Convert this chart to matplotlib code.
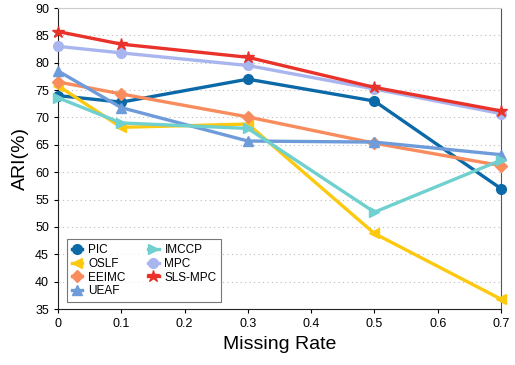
import matplotlib.pyplot as plt
import numpy as np

plt.rcParams['font.family'] = ['Liberation Sans', 'DejaVu Sans']

missing_rate = [0, 0.1, 0.3, 0.5, 0.7]

pic = [74.0, 72.8, 77.0, 73.0, 57.0]
oslf = [75.8, 68.2, 68.8, 48.8, 36.8]
eeimc = [76.5, 74.3, 70.1, 65.3, 61.2]
ueaf = [78.5, 71.8, 65.7, 65.5, 63.2]
imccp = [73.6, 69.0, 68.0, 52.7, 62.2]
mpc = [83.0, 81.8, 79.5, 75.2, 70.7]
sls_mpc = [85.7, 83.4, 81.0, 75.5, 71.2]

series = [
    ("PIC", pic, "#0b69a8", "o"),
    ("OSLF", oslf, "#fdc90f", "<"),
    ("EEIMC", eeimc, "#f88c5d", "D"),
    ("UEAF", ueaf, "#6e9bd9", "^"),
    ("IMCCP", imccp, "#6fd0cf", ">"),
    ("MPC", mpc, "#a9b5ef", "o"),
    ("SLS-MPC", sls_mpc, "#e9322a", "*"),
]

fig = plt.figure(figsize=(5.15, 3.65), dpi=100)
ax = fig.add_axes([0.1126, 0.1534, 0.8602, 0.8246])

for nome, valores, cor, marcador in series:
    tam = 9 if marcador == "*" else 7
    if marcador == "D":
        tam = 6
    ax.plot(missing_rate, valores, color=cor, marker=marcador, markersize=tam,
            linewidth=2.4, label=nome, clip_on=False, zorder=3)

ax.set_xlim(0, 0.7)
ax.set_ylim(35, 90)
ax.set_xticks([0, 0.1, 0.2, 0.3, 0.4, 0.5, 0.6, 0.7])
ax.set_xticklabels(["0", "0.1", "0.2", "0.3", "0.4", "0.5", "0.6", "0.7"])
ax.set_yticks(np.arange(35, 91, 5))
ax.tick_params(labelsize=9, length=3, width=0.8)
ax.yaxis.grid(True, linestyle=(0, (1, 3)), color="#bbbbbb", linewidth=0.8)
ax.set_axisbelow(True)

ax.spines['top'].set_color("#cccccc")
ax.spines['right'].set_color("#555555")
ax.spines['left'].set_color("#222222")
ax.spines['bottom'].set_color("#222222")

ax.set_xlabel("Missing Rate", fontsize=14)
ax.set_ylabel("ARI(%)", fontsize=14)

leg = ax.legend(ncol=2, loc="lower left", bbox_to_anchor=(0.02, 0.023),
                borderaxespad=0, fontsize=8.5, fancybox=False,
                edgecolor="#555555", handlelength=0.9, handletextpad=0.5,
                columnspacing=1.9, labelspacing=0.15, borderpad=0.4)
leg.get_frame().set_linewidth(0.8)

plt.savefig("out.png", dpi=100)
